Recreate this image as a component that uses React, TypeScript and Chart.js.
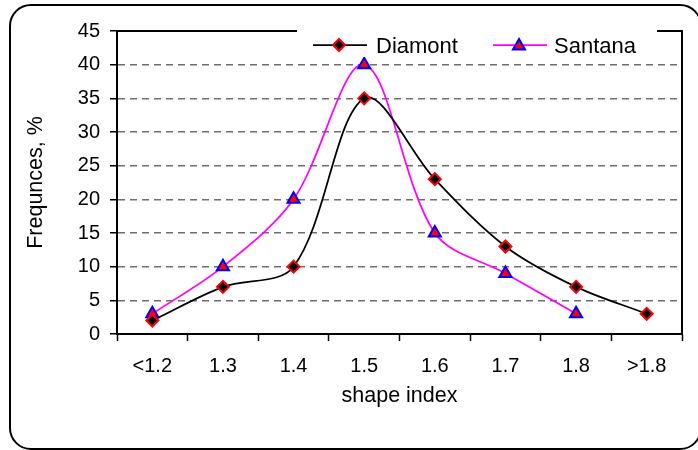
import React, { useEffect, useRef } from 'react';
import { Chart, registerables } from 'chart.js';

Chart.register(...registerables);

const categories = ['<1.2', '1.3', '1.4', '1.5', '1.6', '1.7', '1.8', '>1.8'];
const diamont: (number | null)[] = [2, 7, 10, 35, 23, 13, 7, 3];
const santana: (number | null)[] = [3, 10, 20, 40, 15, 9, 3, null];
const seriesNames = ['Diamont', 'Santana'];
const yMin = 0;
const yMax = 45;
const yStep = 5;
const yTitle = 'Frequnces, %';
const xTitle = 'shape index';

const FONT = '"Liberation Sans", Arial, sans-serif';

function drawDiamond(ctx: CanvasRenderingContext2D, x: number, y: number, r: number, fill: string, stroke: string) {
  ctx.beginPath();
  ctx.moveTo(x - r, y);
  ctx.lineTo(x, y - r);
  ctx.lineTo(x + r, y);
  ctx.lineTo(x, y + r);
  ctx.closePath();
  ctx.fillStyle = fill;
  ctx.fill();
  ctx.lineWidth = 2;
  ctx.strokeStyle = stroke;
  ctx.stroke();
}

function drawTriangle(ctx: CanvasRenderingContext2D, x: number, y: number, r: number, fill: string, stroke: string) {
  ctx.beginPath();
  ctx.moveTo(x, y - r);
  ctx.lineTo(x + r * Math.sin((2 * Math.PI) / 3), y - r * Math.cos((2 * Math.PI) / 3));
  ctx.lineTo(x + r * Math.sin((4 * Math.PI) / 3), y - r * Math.cos((4 * Math.PI) / 3));
  ctx.closePath();
  ctx.fillStyle = fill;
  ctx.fill();
  ctx.lineWidth = 2;
  ctx.strokeStyle = stroke;
  ctx.stroke();
}

const framePlugin = {
  id: 'frame',
  beforeDatasetsDraw(chart: any) {
    const { ctx, chartArea } = chart;
    ctx.save();
    ctx.strokeStyle = '#000';
    ctx.lineWidth = 2;
    ctx.strokeRect(chartArea.left, chartArea.top, chartArea.right - chartArea.left, chartArea.bottom - chartArea.top);
    ctx.restore();
  },
};

const legendPlugin = {
  id: 'insideLegend',
  afterDatasetsDraw(chart: any) {
    const { ctx, chartArea } = chart;
    const left = chartArea.left;
    const top = chartArea.top;
    ctx.save();
    ctx.fillStyle = '#fff';
    ctx.fillRect(left + 180, top - 8, 360, 34);
    const cy = top + 14;
    ctx.font = `22px ${FONT}`;
    ctx.textBaseline = 'alphabetic';
    ctx.textAlign = 'left';
    // Diamont
    ctx.strokeStyle = '#000';
    ctx.lineWidth = 1.75;
    ctx.beginPath();
    ctx.moveTo(left + 196, cy);
    ctx.lineTo(left + 250, cy);
    ctx.stroke();
    drawDiamond(ctx, left + 222, cy, 6, '#000', '#ff0000');
    ctx.fillStyle = '#000';
    ctx.fillText(seriesNames[0], left + 259, cy + 8);
    // Santana
    ctx.strokeStyle = '#ff00ff';
    ctx.lineWidth = 1.75;
    ctx.beginPath();
    ctx.moveTo(left + 376, cy);
    ctx.lineTo(left + 430, cy);
    ctx.stroke();
    drawTriangle(ctx, left + 402, cy + 1, 7, '#ff0000', '#0000ff');
    ctx.fillStyle = '#000';
    ctx.fillText(seriesNames[1], left + 437, cy + 8);
    ctx.restore();
  },
};

export default function App() {
  const ref = useRef<HTMLCanvasElement | null>(null);

  useEffect(() => {
    if (!ref.current) return;
    const chart = new Chart(ref.current, {
      type: 'line',
      data: {
        labels: categories,
        datasets: [
          {
            label: seriesNames[0],
            data: diamont,
            borderColor: '#000',
            borderWidth: 1.75,
            tension: 0.33,
            pointStyle: 'rectRot',
            pointRadius: 6,
            pointBackgroundColor: '#000',
            pointBorderColor: '#ff0000',
            pointBorderWidth: 2,
            fill: false,
          },
          {
            label: seriesNames[1],
            data: santana,
            borderColor: '#ff00ff',
            borderWidth: 1.75,
            tension: 0.33,
            pointStyle: 'triangle',
            pointRadius: 7,
            pointBackgroundColor: '#ff0000',
            pointBorderColor: '#0000ff',
            pointBorderWidth: 2,
            fill: false,
          },
        ],
      },
      options: {
        responsive: false,
        animation: false,
        devicePixelRatio: 1,
        layout: { padding: { left: 0, right: 16, top: 31, bottom: 0 } },
        plugins: {
          legend: { display: false },
          tooltip: { enabled: false },
        },
        scales: {
          x: {
            type: 'category',
            offset: true,
            grid: {
              offset: true,
              drawOnChartArea: false,
              drawTicks: true,
              tickLength: 7,
              tickColor: '#000',
              tickWidth: 1.5,
            },
            border: { color: '#000', width: 2 },
            ticks: {
              color: '#000',
              font: { family: FONT, size: 20 },
              padding: 13,
              maxRotation: 0,
              autoSkip: false,
            },
            title: {
              display: true,
              text: xTitle,
              color: '#000',
              font: { family: FONT, size: 21.5 },
              padding: { top: 0, bottom: 41 },
            },
            afterFit(scale: any) {
              scale.height = 116;
            },
          },
          y: {
            min: yMin,
            max: yMax,
            ticks: {
              stepSize: yStep,
              color: '#000',
              font: { family: FONT, size: 20 },
              padding: 10,
            },
            grid: {
              color: (c: any) =>
                c.tick && (c.tick.value === yMin || c.tick.value === yMax) ? 'rgba(0,0,0,0)' : '#6e6e6e',
              lineWidth: 1.5,
              drawTicks: true,
              tickLength: 7,
              tickColor: '#000',
              tickWidth: 1.5,
              tickBorderDash: [],
            },
            border: { color: '#000', width: 2, dash: [7, 5] },
            title: {
              display: true,
              text: yTitle,
              color: '#000',
              font: { family: FONT, size: 21.5 },
              padding: { top: 23, bottom: 0 },
            },
            afterFit(scale: any) {
              scale.width = 117;
            },
          },
        },
      },
      plugins: [framePlugin, legendPlugin],
    } as any);
    return () => chart.destroy();
  }, []);

  return (
    <div
      style={{
        position: 'absolute',
        left: 0,
        top: 0,
        width: 698,
        height: 450,
        overflow: 'hidden',
        background: '#fff',
      }}
    >
      <canvas
        ref={ref}
        width={698}
        height={450}
        style={{ position: 'absolute', left: 0, top: 0, width: 698, height: 450 }}
      />
      <div
        style={{
          position: 'absolute',
          left: 9,
          top: 4,
          width: 693,
          height: 446,
          border: '2px solid #000',
          borderRadius: 22,
          boxSizing: 'border-box',
          pointerEvents: 'none',
        }}
      />
    </div>
  );
}
